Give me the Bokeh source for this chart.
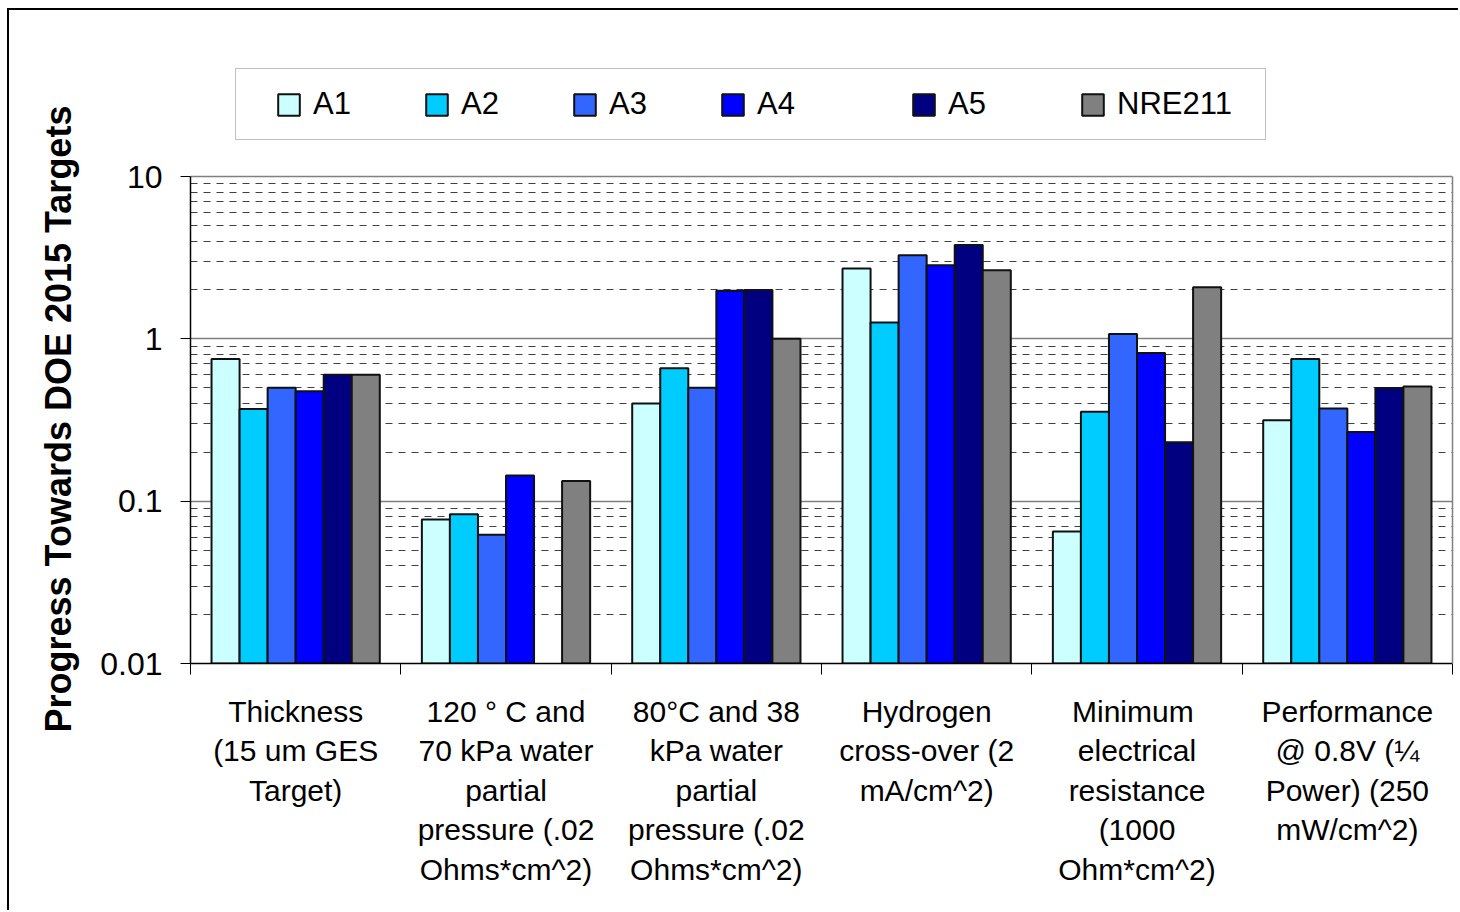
import numpy as np
from bokeh.plotting import figure
from bokeh.models import FixedTicker, Legend, LegendItem, Range1d, LogAxis, Title
from bokeh.embed import file_html
from bokeh.resources import INLINE

# ---------------- data ----------------
categories = [
    "Thickness\n(15 um GES\nTarget)",
    "120 \u00b0 C and\n70 kPa water\npartial\npressure (.02\nOhms*cm^2)",
    "80\u00b0C and 38\nkPa water\npartial\npressure (.02\nOhms*cm^2)",
    "Hydrogen\ncross-over (2\nmA/cm^2)",
    " Minimum\nelectrical\nresistance\n(1000\nOhm*cm^2)",
    "Performance\n@ 0.8V (\u00bc\nPower) (250\nmW/cm^2)",
]
series_names = ["A1", "A2", "A3", "A4", "A5", "NRE211"]
A1 = [0.75, 0.077, 0.40, 2.71, 0.065, 0.315]
A2 = [0.37, 0.083, 0.66, 1.26, 0.356, 0.75]
A3 = [0.50, 0.062, 0.50, 3.27, 1.07, 0.372]
A4 = [0.475, 0.144, 1.98, 2.84, 0.819, 0.267]
A5 = [0.60, float("nan"), 2.0, 3.78, 0.231, 0.497]
NRE211 = [0.60, 0.133, 1.0, 2.65, 2.08, 0.508]
series_values = [A1, A2, A3, A4, A5, NRE211]
colors = ["#CCFFFF", "#00CCFF", "#3366FF", "#0000FF", "#000080", "#808080"]

y_ticks = [0.01, 0.1, 1, 10]
y_tick_labels = ["0.01", "0.1", "1", "10"]
y_minor = [m * 10.0 ** e for e in (-2, -1, 0) for m in range(2, 10)]
y_title = "Progress Towards DOE 2015 Targets"

FONT = "Liberation Sans"

# ---------------- layout constants (pixels) ----------------
PLOT_H = 487            # height of the 0.01..10 axis
EXTRA_TOP = 136         # room above the axis for the legend (inside the frame)
decade_px = PLOT_H / 3.0
y_end = 10 ** (1 + EXTRA_TOP / decade_px)

# ---------------- figure ----------------
p = figure(
    width=1451, height=902,
    min_border_left=181, min_border_top=30, min_border_bottom=249, min_border_right=8,
    x_range=Range1d(0, len(categories)), y_range=Range1d(0.01, y_end),
    y_axis_type="log", output_backend="svg", toolbar_location=None,
    background_fill_color="white", border_fill_color="white",
)
p.styles = {"margin-left": "7px", "margin-top": "8px",
            "border-left": "2px solid black", "border-top": "2px solid black"}
p.outline_line_color = None

n_series = len(series_names)
group_w = 0.8
bar_w = group_w / n_series
idx = np.arange(len(categories))

renderers = []
for j, (name, vals, col) in enumerate(zip(series_names, series_values, colors)):
    xs = idx + (1 - group_w) / 2 + (j + 0.5) * bar_w
    r = p.vbar(x=xs, top=vals, bottom=0.01, width=bar_w,
               fill_color=col, line_color="#111111", line_width=2)
    renderers.append(r)

# ---------------- y axis / grid ----------------
yt = FixedTicker(ticks=y_ticks, minor_ticks=y_minor)
p.yaxis.ticker = yt
p.ygrid.ticker = yt
p.yaxis.bounds = (y_ticks[0], y_ticks[-1])
p.yaxis.major_label_overrides = dict(zip(y_ticks, y_tick_labels))
p.yaxis.major_tick_out = 10
p.yaxis.major_tick_in = 0
p.yaxis.minor_tick_out = 0
p.yaxis.minor_tick_in = 0
p.yaxis.major_tick_line_color = "black"
p.yaxis.axis_line_color = "black"
p.yaxis.axis_line_width = 1.5
p.yaxis.major_label_standoff = 18
p.yaxis.major_label_text_font = FONT
p.yaxis.major_label_text_font_size = "32px"
p.yaxis.major_label_text_color = "black"

# axis title, placed along the 0.01..10 span (frame extends higher for the legend)
p.add_layout(Title(text=y_title, align="left", offset=-69, standoff=38,
                   text_font=FONT, text_font_size="36px", text_font_style="bold",
                   text_color="black"), "left")

p.ygrid.grid_line_color = "#808080"
p.ygrid.grid_line_width = 1.5
p.ygrid.minor_grid_line_color = "#404040"
p.ygrid.minor_grid_line_width = 1
p.ygrid.minor_grid_line_dash = "7 6"
p.xgrid.grid_line_color = None

# right edge of the plot area (grey), limited to the axis span
right_edge = LogAxis(bounds=(y_ticks[0], y_ticks[-1]), ticker=FixedTicker(ticks=[]),
                     axis_line_color="#808080", axis_line_width=1.5,
                     major_tick_line_color=None, minor_tick_line_color=None,
                     major_label_text_font_size="0px")
p.add_layout(right_edge, "right")

# ---------------- x axis ----------------
centers = [float(i) + 0.5 for i in idx]
bounds = [float(i) for i in range(len(categories) + 1)]
p.xaxis.ticker = FixedTicker(ticks=centers, minor_ticks=bounds)
p.xaxis.major_label_overrides = dict(zip(centers, categories))
p.xaxis.major_tick_out = 0
p.xaxis.major_tick_in = 0
p.xaxis.minor_tick_out = 11
p.xaxis.minor_tick_in = 0
p.xaxis.minor_tick_line_color = "black"
p.xaxis.axis_line_color = "black"
p.xaxis.axis_line_width = 1.5
p.xaxis.major_label_standoff = 20
p.xaxis.major_label_text_font = FONT
p.xaxis.major_label_text_font_size = "30px"
p.xaxis.major_label_text_line_height = 1.2
p.xaxis.major_label_text_color = "black"

# ---------------- legend ----------------
common = dict(
    orientation="horizontal", glyph_width=27, glyph_height=27,
    label_standoff=11, spacing=0, padding=17, margin=0,
    label_text_font=FONT, label_text_font_size="31px", label_text_color="black",
)
# framed box holding A5 and NRE211 (a blank title on the left acts as spacer)
legend_b = Legend(
    items=[LegendItem(label=n, renderers=[r]) for n, r in zip(series_names[4:], renderers[4:])],
    location=(45, 523), label_width=131,
    title=" ", title_location="left", title_text_font_size="1px", title_standoff=656,
    border_line_color="#808080", border_line_width=1.5,
    background_fill_color="white", background_fill_alpha=1.0,
    **common,
)
# A1..A4 drawn on top, no frame of its own (so no padding either)
legend_a = Legend(
    items=[LegendItem(label=n, renderers=[r]) for n, r in zip(series_names[:4], renderers[:4])],
    location=(85, 541), label_width=110,
    border_line_color=None, background_fill_alpha=0.0,
    **common,
)
p.add_layout(legend_b, "center")
p.add_layout(legend_a, "center")

open("out.html", "w").write(file_html(p, INLINE))
